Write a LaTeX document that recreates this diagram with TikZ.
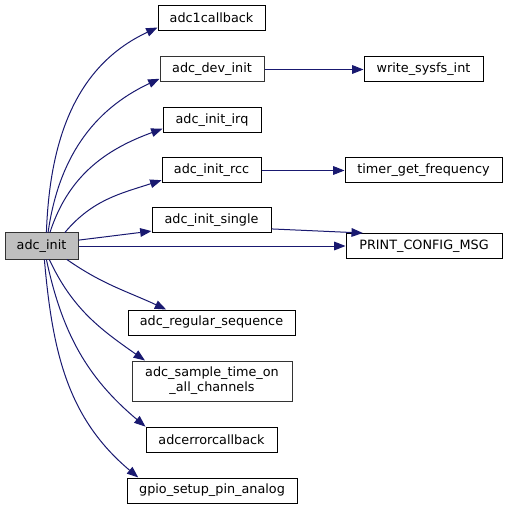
\documentclass[tikz,border=0pt]{standalone}
\usepackage{fontspec}
\setmainfont{DejaVu Sans}
\usepackage{xcolor}
\usepackage{tikz}
\usetikzlibrary{arrows.meta,positioning}
\definecolor{edgeblue}{HTML}{191970}

\begin{document}
\begin{tikzpicture}[
    x=0.75pt, y=0.75pt,
    font=\fontsize{9.6}{11.2}\selectfont,
    fn/.style={rectangle, draw=black, line width=0.75pt, align=center,
      minimum height=18.75pt, inner xsep=1pt, inner ysep=1pt},
    wd/.style={minimum width=#1*0.75pt},
    dim/.style={draw=black!80},
    cur/.style={fn, dim, fill=black!25},
    arr/.style={-{Triangle[length=8.5pt, width=6.5pt]}, line width=0.75pt, edgeblue}
  ]
    \useasboundingbox (0,0) rectangle (508,-509);
    \node[cur, wd=73, minimum height=19.5pt] (init) at (41.5,-246) {adc\_init};
    \node[fn, wd=107] (cb) at (211.5,-18) {adc1callback};
    \node[fn, dim, wd=104] (dev) at (212,-69.5) {adc\_dev\_init};
    \node[fn, wd=98] (irq) at (212,-120) {adc\_init\_irq};
    \node[fn, wd=99] (rcc) at (211.5,-170.5) {adc\_init\_rcc};
    \node[fn, wd=119] (single) at (211.5,-220.5) {adc\_init\_single};
    \node[fn, wd=167] (regseq) at (211.5,-322.5) {adc\_regular\_sequence};
    \node[fn, dim, wd=160, minimum height=30pt] (sample) at (212,-381)
      {adc\_sample\_time\_on\\\_all\_channels};
    \node[fn, wd=131] (errcb) at (211.5,-439.5) {adcerrorcallback};
    \node[fn, wd=170] (gpio) at (212,-490.5) {gpio\_setup\_pin\_analog};
    \node[fn, wd=119] (sysfs) at (423.5,-69.5) {write\_sysfs\_int};
    \node[fn, wd=157] (timer) at (423.5,-170.5) {timer\_get\_frequency};
    \node[fn, wd=156] (printmsg) at (424,-246) {PRINT\_CONFIG\_MSG};
    \draw[arr] (init.70) to[out=88, in=205] (cb.190);
    \draw[arr] (init.64) to[out=82, in=205] (dev.190);
    \draw[arr] (init.58) to[out=72, in=200] (irq.190);
    \draw[arr] (init.30) to[out=50, in=198] (rcc.191);
    \draw[arr] (init.9) -- (single.190);
    \draw[arr] (init.east) -- (printmsg.west);
    \draw[arr] (init.-28) to[out=-35, in=155] (regseq.164);
    \draw[arr] (init.-60) to[out=-65, in=145] (sample.163);
    \draw[arr] (init.-70) to[out=-78, in=140] (errcb.169);
    \draw[arr] (init.-78) to[out=-85, in=140] (gpio.170);
    \draw[arr] (dev.east) -- (sysfs.west);
    \draw[arr] (rcc.east) -- (timer.west);
    \draw[arr] (single.-8) -- (printmsg.168);
  \end{tikzpicture}
\end{document}
